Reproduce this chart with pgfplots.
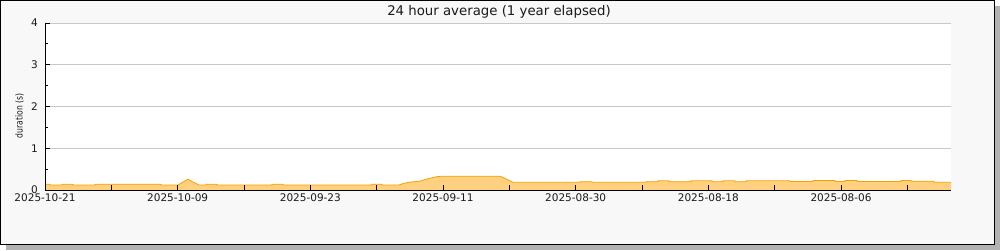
\documentclass[border=0pt]{standalone}
\usepackage{fontspec}
\setmainfont{DejaVu Sans}
\usepackage{graphicx}
\usepackage{pgfplots}
\pgfplotsset{compat=1.18}
\definecolor{areafill}{HTML}{FFD07F}
\definecolor{arealine}{HTML}{F5A300}
\definecolor{gridc}{HTML}{C8C8C8}
\definecolor{bgc}{HTML}{F8F8F8}
\definecolor{txt}{HTML}{1A1A1A}
\newcommand{\chartfont}{\fontsize{10.5}{12.6}\selectfont}
\begin{document}
\begin{tikzpicture}[x=1pt,y=1pt,font=\chartfont]
\useasboundingbox (0,0) rectangle (1000,250);
% shadow and frame
\fill[gray!60] (6,0) rectangle (1000,244);
\fill[bgc] (0.5,5.5) rectangle (994,249.5);
\draw[black,line width=1pt] (0.5,5.5) rectangle (994,249.5);
\begin{axis}[
  at={(45pt,60pt)}, anchor=south west,
  width=906pt, height=167pt, scale only axis,
  font=\chartfont,
  xmin=0, xmax=906, ymin=0, ymax=4,
  axis lines=left, axis line style={-, black, line width=0.8pt},
  axis background/.style={fill=white},
  axis on top=true,
  tick align=inside,
  xtick={0,66.33,132.67,199,265.33,331.67,398,464.33,530.67,597,663.33,729.67,796,862.33},
  xticklabels={2025-10-21,,2025-10-09,,2025-09-23,,2025-09-11,,2025-08-30,,2025-08-18,,2025-08-06,},
  ytick={0,1,2,3,4},
  minor ytick={0.5,1.5,2.5,3.5},
  major tick length=5pt, minor tick length=3.3pt,
  tick style={black, line width=0.8pt},
  ymajorgrids=true,
  major grid style={gridc, line width=0.8pt},
  /pgf/number format/assume math mode=true,
  yticklabel style={anchor=east, inner sep=0pt, xshift=-7pt, text=txt, font=\chartfont},
  xticklabel style={anchor=north, inner sep=0pt, yshift=-3.5pt, text=txt, font=\chartfont},
]
\addplot[fill=areafill, draw=none] coordinates {
(0,0.14)(5,0.14)(5,0.12)(17,0.12)(17,0.14)(28,0.14)(28,0.12)(50,0.12)(50,0.14)(116,0.14)(116,0.12)(133,0.12)(138,0.19)(143,0.26)(148,0.19)(154,0.12)(161,0.12)(161,0.14)(172,0.14)(172,0.12)(227,0.12)(227,0.14)(238,0.14)(238,0.12)(327,0.12)(327,0.14)(337,0.14)(337,0.12)(354,0.12)(359,0.16)(365,0.19)(375,0.21)(380,0.25)(385,0.28)(392,0.32)(396,0.33)(455,0.33)(460,0.28)(464,0.23)(468,0.185)(535,0.185)(535,0.20)(547,0.20)(547,0.185)(601,0.185)(601,0.20)(613,0.20)(613,0.22)(624,0.22)(624,0.20)(646,0.20)(646,0.22)(667,0.22)(667,0.20)(678,0.20)(678,0.22)(690,0.22)(690,0.20)(701,0.20)(701,0.22)(745,0.22)(745,0.205)(768,0.205)(768,0.23)(790,0.23)(790,0.205)(800,0.205)(800,0.23)(812,0.23)(812,0.205)(856,0.205)(856,0.23)(866,0.23)(866,0.21)(889,0.21)(889,0.185)(906,0.185)
} \closedcycle;
\addplot[draw=arealine, line width=0.8pt, mark=none] coordinates {
(0,0.14)(5,0.14)(5,0.12)(17,0.12)(17,0.14)(28,0.14)(28,0.12)(50,0.12)(50,0.14)(116,0.14)(116,0.12)(133,0.12)(138,0.19)(143,0.26)(148,0.19)(154,0.12)(161,0.12)(161,0.14)(172,0.14)(172,0.12)(227,0.12)(227,0.14)(238,0.14)(238,0.12)(327,0.12)(327,0.14)(337,0.14)(337,0.12)(354,0.12)(359,0.16)(365,0.19)(375,0.21)(380,0.25)(385,0.28)(392,0.32)(396,0.33)(455,0.33)(460,0.28)(464,0.23)(468,0.185)(535,0.185)(535,0.20)(547,0.20)(547,0.185)(601,0.185)(601,0.20)(613,0.20)(613,0.22)(624,0.22)(624,0.20)(646,0.20)(646,0.22)(667,0.22)(667,0.20)(678,0.20)(678,0.22)(690,0.22)(690,0.20)(701,0.20)(701,0.22)(745,0.22)(745,0.205)(768,0.205)(768,0.23)(790,0.23)(790,0.205)(800,0.205)(800,0.23)(812,0.23)(812,0.205)(856,0.205)(856,0.23)(866,0.23)(866,0.21)(889,0.21)(889,0.185)(906,0.185)
};
\end{axis}
\node[anchor=base, inner sep=0pt, text=txt, font=\fontsize{13.3}{15}\selectfont] at (499,235) {24 hour average (1 year elapsed)};
\node[rotate=90, anchor=center, inner sep=0pt, text=txt, font=\fontsize{9.6}{11}\selectfont] at (19.5,134) {\scalebox{0.8}[1]{duration (s)}};
\end{tikzpicture}
\end{document}
